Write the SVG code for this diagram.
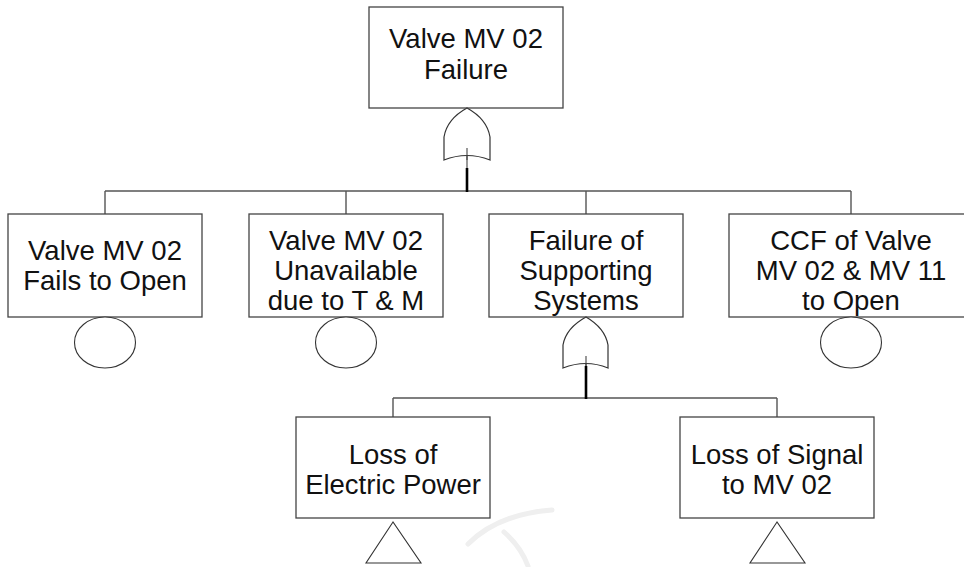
<svg xmlns="http://www.w3.org/2000/svg" width="964" height="567" viewBox="0 0 964 567">
  <style>
    .box { fill: #ffffff; stroke: #444444; stroke-width: 1.3; }
    .lbl { font-family: "Liberation Sans", Arial, sans-serif; font-size: 27.5px; fill: #111111; text-anchor: middle; }
    .wire { fill: none; stroke: #555555; stroke-width: 1.4; }
    .stem { fill: none; stroke: #000000; stroke-width: 2.6; }
    .thin { fill: none; stroke: #444444; stroke-width: 1.1; }
    .gate { fill: #ffffff; stroke: #333333; stroke-width: 1.2; }
    .basic { fill: #ffffff; stroke: #333333; stroke-width: 1.1; }
    .mark { fill: none; stroke: #efefef; stroke-width: 5; stroke-linecap: round; }
  </style>

  <!-- faint background mark -->
  <g id="watermark">
    <path class="mark" d="M468,544 Q498,514 552,510"/>
    <path class="mark" d="M504,532 Q521,547 528,566"/>
  </g>

  <!-- connectors -->
  <g id="connectors">
    <path class="wire" d="M105,191 H851 M105,191 V214 M346,191 V214 M586,191 V214 M851,191 V214"/>
    <path class="wire" d="M393,398 H777 M393,398 V417 M777,398 V417"/>
    <path class="thin" d="M467,148 V168"/>
    <path class="stem" d="M467,168 V192"/>
    <path class="thin" d="M586,356 V372"/>
    <path class="stem" d="M586,366 V399"/>
  </g>

  <g id="top-event">
    <rect class="box" x="369" y="7" width="194" height="101"/>
    <text class="lbl" x="466" y="48">Valve MV 02</text>
    <text class="lbl" x="466" y="79">Failure</text>
  </g>

  <g id="or-gate-top">
    <path class="gate" d="M467,108 Q447,119 444,137 L444,160 Q467,151 490,160 L490,137 Q487,119 467,108 Z"/>
    <path class="thin" d="M467,148 V160"/>
  </g>

  <g id="fails-to-open">
    <rect class="box" x="8" y="214" width="194" height="103"/>
    <text class="lbl" x="105" y="260">Valve MV 02</text>
    <text class="lbl" x="105" y="290">Fails to Open</text>
    <ellipse class="basic" cx="105" cy="342.5" rx="30.5" ry="25.5"/>
  </g>

  <g id="unavailable-tm">
    <rect class="box" x="249" y="214" width="194" height="103"/>
    <text class="lbl" x="346" y="249.5">Valve MV 02</text>
    <text class="lbl" x="346" y="279.5">Unavailable</text>
    <text class="lbl" x="346" y="309.5">due to T &amp; M</text>
    <ellipse class="basic" cx="346" cy="342.5" rx="30.5" ry="25.5"/>
  </g>

  <g id="supporting-systems">
    <rect class="box" x="489" y="214" width="194" height="103"/>
    <text class="lbl" x="586" y="249.5">Failure of</text>
    <text class="lbl" x="586" y="279.5">Supporting</text>
    <text class="lbl" x="586" y="309.5">Systems</text>
  </g>

  <g id="or-gate-support">
    <path class="gate" d="M586,317 Q566,328 563,345 L563,368 Q586,359 608,368 L608,345 Q605,328 586,317 Z"/>
    <path class="thin" d="M586,356 V366"/>
  </g>

  <g id="ccf-valves">
    <rect class="box" x="729" y="214" width="244" height="103"/>
    <text class="lbl" x="851" y="249.5">CCF of Valve</text>
    <text class="lbl" x="851" y="279.5">MV 02 &amp; MV 11</text>
    <text class="lbl" x="851" y="309.5">to Open</text>
    <ellipse class="basic" cx="851" cy="342.5" rx="30.5" ry="25.5"/>
  </g>

  <g id="electric-power">
    <rect class="box" x="296" y="417" width="194" height="101"/>
    <text class="lbl" x="393" y="463.5">Loss of</text>
    <text class="lbl" x="393" y="493.5">Electric Power</text>
    <polygon class="basic" points="393,522 366,563 421,563"/>
  </g>

  <g id="signal-loss">
    <rect class="box" x="680" y="417" width="194" height="101"/>
    <text class="lbl" x="777" y="463.5">Loss of Signal</text>
    <text class="lbl" x="777" y="493.5">to MV 02</text>
    <polygon class="basic" points="777,522 750,563 805,563"/>
  </g>
</svg>
